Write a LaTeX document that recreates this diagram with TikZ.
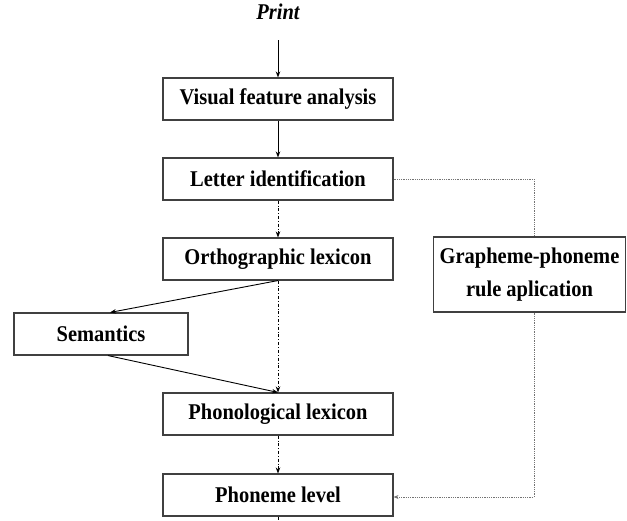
\documentclass[tikz,border=0pt]{standalone}
\usepackage{fontspec}
\setmainfont{Liberation Serif}[FakeStretch=0.91]
\usetikzlibrary{arrows.meta}
\begin{document}
\begin{tikzpicture}[x=1pt, y=-1pt,
  lvl/.style={draw=black!75, line width=1.1pt, minimum width=230pt, minimum height=42pt, inner sep=2pt, font=\fontsize{22.5}{33}\selectfont\bfseries},
  solidarr/.style={line width=0.9pt, -{Stealth[length=6pt, width=4.5pt]}},
  dasharr/.style={line width=0.7pt, dash dot, -{Stealth[length=6pt, width=4.5pt]}},
  dotline/.style={line width=0.8pt, densely dotted, black!55}]
\useasboundingbox (0,0) rectangle (627,520);
\node[font=\fontsize{22.5}{26}\selectfont\bfseries\itshape] (prt) at (278,12){Print};
\node[lvl] (vis) at (278,99){Visual feature analysis};
\node[lvl] (let) at (278,179){Letter identification};
\node[lvl] (ort) at (278,259){Orthographic lexicon};
\node[lvl, minimum width=174pt] (sem) at (101,334){Semantics};
\node[lvl] (phl) at (278,414){Phonological lexicon};
\node[lvl] (phm) at (278,495){Phoneme level};
\node[lvl, minimum width=192pt, minimum height=75pt, align=center] (gra) at (529.5,274.5){Grapheme-phoneme\\rule aplication};
\coordinate (out) at (278,520);
\draw[solidarr, shorten <=17pt](prt) -- (vis);
\draw[solidarr](vis) -- (let);
\draw[dasharr](let) -- (ort);
\draw[solidarr](ort.south) -- ([xshift=9pt]sem.north);
\draw[solidarr]([xshift=7pt]sem.south) -- (phl.north);
\draw[dasharr](ort) -- (phl);
\draw[dasharr](phl) -- (phm);
\draw[line width=0.9pt](phm) -- (out);
\draw[dotline](let.east) -| ([xshift=4.5pt]gra.north);
\draw[dotline, -{Stealth[length=5pt, width=4pt]}]([xshift=4.5pt]gra.south) |- ([yshift=-2pt]phm.east);

\end{tikzpicture}
\end{document}
